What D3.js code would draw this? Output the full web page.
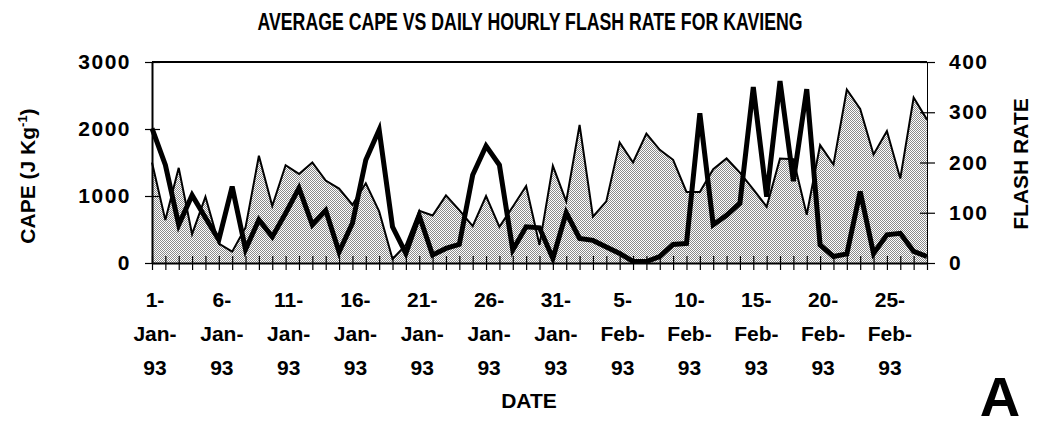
<!DOCTYPE html>
<html>
<head>
<meta charset="utf-8">
<script src="https://cdn.jsdelivr.net/npm/d3@7"></script>
<style>
  body { margin: 0; background: #fff; }
  svg text { font-family: "Liberation Sans", Arial, Helvetica, sans-serif; font-weight: bold; fill: #000; }
</style>
</head>
<body>
<div id="chart"></div>
<script>
// daily values, 1 Jan 93 .. 28 Feb 93
const startDay = new Date(1993, 0, 1);
const endDay = new Date(1993, 1, 28);

const capeValues = [
  1500, 640, 1420, 430, 990, 290, 170, 530, 1600, 850,
  1460, 1330, 1500, 1230, 1110, 870, 1190, 770, 60, 270,
  780, 710, 1010, 790, 550, 1000, 540, 840, 1150, 270,
  1450, 920, 2060, 690, 920, 1800, 1500, 1930, 1690, 1540,
  1060, 1060, 1400, 1560, 1350, 1100, 840, 1560, 1550, 720,
  1760, 1470, 2590, 2300, 1620, 1970, 1260, 2470, 2140
];

const flashValues = [
  268, 195, 76, 135, 90, 46, 152, 27, 86, 52,
  99, 149, 76, 105, 22, 79, 205, 265, 72, 19,
  94, 16, 29, 37, 175, 233, 195, 26, 72, 70,
  9, 100, 49, 45, 32, 19, 3, 3, 13, 37,
  39, 298, 76, 95, 119, 350, 132, 362, 163, 346,
  36, 13, 18, 142, 19, 56, 59, 23, 13
];

const dateTicks = ["1-Jan-93", "6-Jan-93", "11-Jan-93", "16-Jan-93", "21-Jan-93", "26-Jan-93",
  "31-Jan-93", "5-Feb-93", "10-Feb-93", "15-Feb-93", "20-Feb-93", "25-Feb-93"];
const capeTicks = [0, 1000, 2000, 3000];
const flashTicks = [0, 100, 200, 300, 400];

const W = 1039, H = 422;
const plotL = 152, plotR = 927, plotT = 62, plotB = 263;

var days = d3.timeDay.range(startDay, d3.timeDay.offset(endDay, 1));
var rows = days.map((d, i) => ({date: d, cape: capeValues[i], flash: flashValues[i]}));

var parseTick = d3.timeParse("%d-%b-%y");

var x = d3.scaleTime().domain([startDay, endDay]).range([plotL, plotR]);
var yCape = d3.scaleLinear().domain([0, 3000]).range([plotB, plotT]);
var yFlash = d3.scaleLinear().domain([0, 400]).range([plotB, plotT]);

var svg = d3.select("#chart").append("svg")
  .attr("width", W)
  .attr("height", H);

// stipple fill like the printed chart
var pat = svg.append("defs").append("pattern")
  .attr("id", "stipple")
  .attr("patternUnits", "userSpaceOnUse")
  .attr("width", 2).attr("height", 2);
pat.append("rect").attr("width", 2).attr("height", 2).attr("fill", "#fff");
pat.append("rect").attr("width", 1).attr("height", 1).attr("fill", "#8a8a8a");
pat.append("rect").attr("x", 1).attr("y", 1).attr("width", 1).attr("height", 1).attr("fill", "#8a8a8a");

// title
svg.append("text")
  .attr("x", 530).attr("y", 30)
  .attr("text-anchor", "middle")
  .attr("font-size", 23)
  .attr("textLength", 545)
  .attr("lengthAdjust", "spacingAndGlyphs")
  .text("AVERAGE CAPE VS DAILY HOURLY FLASH RATE FOR KAVIENG");

// cape area + thin line
svg.append("path")
  .datum(rows)
  .attr("fill", "url(#stipple)")
  .attr("d", d3.area().x(d => x(d.date)).y0(plotB).y1(d => yCape(d.cape)));

svg.append("path")
  .datum(rows)
  .attr("fill", "none")
  .attr("stroke", "#000")
  .attr("stroke-width", 2)
  .attr("d", d3.line().x(d => x(d.date)).y(d => yCape(d.cape)));

// frame top
svg.append("line")
  .attr("x1", plotL).attr("x2", plotR)
  .attr("y1", plotT).attr("y2", plotT)
  .attr("stroke", "#000").attr("stroke-width", 2);

// x axis
var xAxis = svg.append("g")
  .attr("transform", `translate(0,${plotB})`)
  .call(d3.axisBottom(x).tickValues(days).tickSize(7).tickSizeOuter(0).tickFormat(""));
xAxis.select(".domain").attr("stroke-width", 2);
xAxis.selectAll(".tick line").attr("y1", -7).attr("stroke-width", 1.2);

// x labels, wrapped in three rows
var lab = svg.append("g");
dateTicks.forEach(t => {
  var parts = t.split("-");
  var lines = [parts[0] + "-", parts[1] + "-", parts[2]];
  var txt = lab.append("text")
    .attr("text-anchor", "middle")
    .attr("font-size", 21)
    .attr("transform", `translate(${x(parseTick(t)) + 3},0)`);
  lines.forEach((s, k) => {
    txt.append("tspan").attr("x", 0).attr("y", 307 + k * 34).text(s);
  });
});

// left axis
var yl = svg.append("g")
  .attr("transform", `translate(${plotL},0)`)
  .call(d3.axisLeft(yCape).tickValues(capeTicks).tickSize(7).tickSizeOuter(0).tickPadding(14).tickFormat(d3.format("d")));
yl.select(".domain").attr("stroke-width", 2);
yl.selectAll(".tick line").attr("x1", 8).attr("stroke-width", 1.2);
yl.selectAll(".tick text")
  .attr("font-size", 21)
  .attr("letter-spacing", 1.5)
  .attr("font-family", "'Liberation Sans', Arial, sans-serif");

// right axis
var yr = svg.append("g")
  .attr("transform", `translate(${plotR},0)`)
  .call(d3.axisRight(yFlash).tickValues(flashTicks).tickSize(8).tickSizeOuter(0).tickPadding(14).tickFormat(d3.format("d")));
yr.select(".domain").attr("stroke-width", 1);
yr.selectAll(".tick line").attr("x1", -7).attr("stroke-width", 1.2);
yr.selectAll(".tick text")
  .attr("font-size", 21)
  .attr("letter-spacing", 1.5)
  .attr("font-family", "'Liberation Sans', Arial, sans-serif");

// flash rate, thick line
svg.append("path")
  .datum(rows)
  .attr("fill", "none")
  .attr("stroke", "#000")
  .attr("stroke-width", 5)
  .attr("d", d3.line().x(d => x(d.date)).y(d => yFlash(d.flash)));

// axis titles
var capeLabel = svg.append("text")
  .attr("transform", "translate(35,176) rotate(-90)")
  .attr("text-anchor", "middle")
  .attr("font-size", 21);
capeLabel.append("tspan").text("CAPE (J Kg");
capeLabel.append("tspan").attr("dy", -8).attr("font-size", 13).text("-1");
capeLabel.append("tspan").attr("dy", 8).text(")");

svg.append("text")
  .attr("transform", "translate(1028,164) rotate(-90)")
  .attr("text-anchor", "middle")
  .attr("font-size", 21)
  .text("FLASH RATE");

svg.append("text")
  .attr("x", 529).attr("y", 408)
  .attr("text-anchor", "middle")
  .attr("font-size", 21)
  .text("DATE");

svg.append("text")
  .attr("x", 1000).attr("y", 416)
  .attr("text-anchor", "middle")
  .attr("font-size", 56)
  .text("A");
</script>
</body>
</html>
